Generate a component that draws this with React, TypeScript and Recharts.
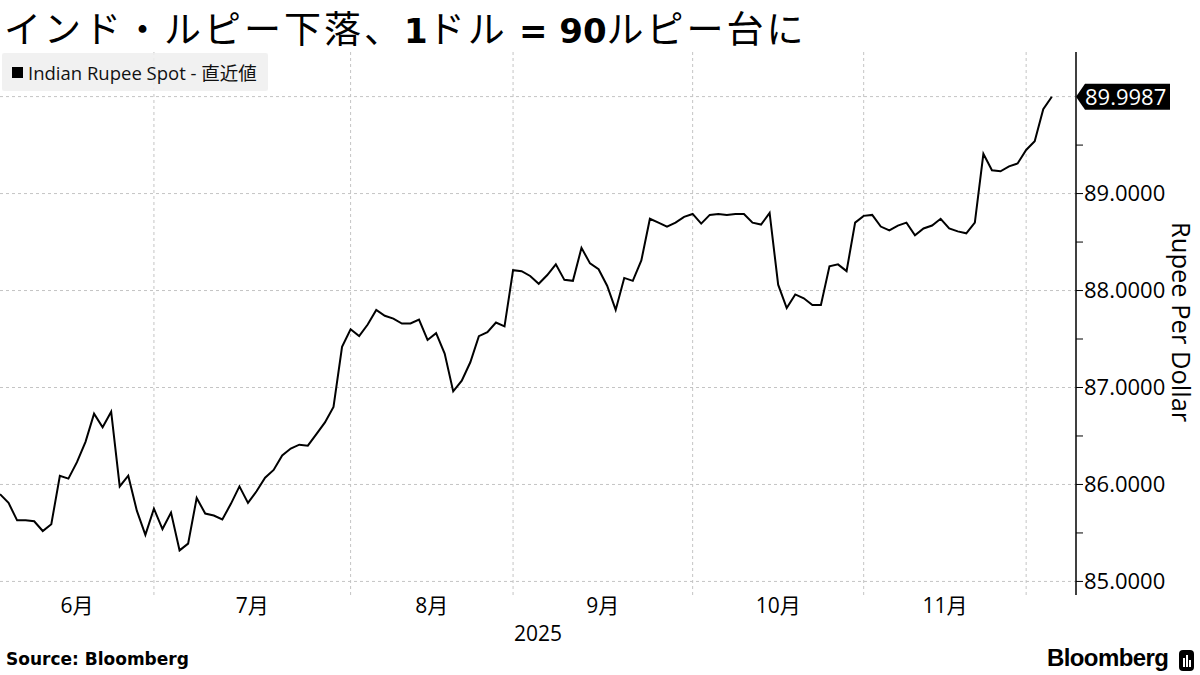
import React from 'react'
import { LineChart, Line, XAxis, YAxis, CartesianGrid } from 'recharts'

// USD/INR spot, one value per trading day (Jun 2025 - Dec 4 2025)
const june = [85.90, 85.81, 85.63, 85.63, 85.62, 85.52, 85.59, 86.09, 86.06, 86.23, 86.44, 86.73, 86.59, 86.75, 85.98, 86.09, 85.73, 85.48]
const july = [85.75, 85.54, 85.71, 85.32, 85.39, 85.86, 85.70, 85.68, 85.64, 85.80, 85.98, 85.81, 85.93, 86.07, 86.15, 86.30, 86.37, 86.41, 86.40, 86.52, 86.64, 86.80, 87.42]
const august = [87.60, 87.53, 87.65, 87.80, 87.74, 87.71, 87.66, 87.66, 87.70, 87.49, 87.56, 87.35, 86.96, 87.07, 87.26, 87.53, 87.57, 87.67, 87.63]
const september = [88.21, 88.20, 88.15, 88.07, 88.16, 88.27, 88.11, 88.10, 88.44, 88.28, 88.22, 88.05, 87.80, 88.13, 88.10, 88.31, 88.74, 88.70, 88.66, 88.70, 88.76]
const october = [88.79, 88.69, 88.78, 88.79, 88.78, 88.79, 88.79, 88.70, 88.68, 88.80, 88.06, 87.82, 87.96, 87.92, 87.85, 87.85, 88.25, 88.27, 88.20, 88.70]
const november = [88.77, 88.78, 88.66, 88.62, 88.67, 88.70, 88.57, 88.64, 88.67, 88.74, 88.64, 88.61, 88.59, 88.70, 89.41, 89.24, 89.23, 89.28, 89.31]
const december = [89.45, 89.54, 89.87, 89.9987]

const months = [june, july, august, september, october, november, december]
const monthLabels = ['6月', '7月', '8月', '9月', '10月', '11月']
const yTicks = [85, 85.5, 86, 86.5, 87, 87.5, 88, 88.5, 89, 89.5]
const yGrid = [85, 86, 87, 88, 89, 90]

const values = months.flat()
const data = values.map((v, i) => ({ i, v }))
const lastValue = values[values.length - 1]

// index of the first trading day of each month (after the first)
const monthStarts: number[] = []
let acc = 0
months.forEach((m, k) => {
  if (k > 0) monthStarts.push(acc)
  acc += m.length
})
const labelPos = monthLabels.map((_, k) => ((k === 0 ? 0 : monthStarts[k - 1]) + monthStarts[k]) / 2)

const latin = '"Open Sans", "Noto Sans CJK JP", sans-serif'
const boldNum = { fontFamily: '"DejaVu Sans"', fontWeight: 700, fontSize: 34, letterSpacing: 0 }

const YTick = (props: any) => {
  const { x, y, payload } = props
  const v = payload.value
  if (v === lastValue) {
    return (
      <g>
        <polygon points={`${x},${y} ${x + 9},${y - 13} ${x + 94},${y - 13} ${x + 94},${y + 13} ${x + 9},${y + 13}`} fill="#000" />
        <text x={x + 9} y={y} dy="0.36em" fill="#fff" fontSize={22} fontFamily={latin}>{v.toFixed(4)}</text>
      </g>
    )
  }
  if (Number.isInteger(v)) {
    return (
      <g>
        <line x1={x} x2={x + 7} y1={y} y2={y} stroke="#000" strokeWidth={1} />
        <text x={x + 8} y={y} dy="0.36em" fill="#000" fontSize={22} fontFamily={latin}>{v.toFixed(4)}</text>
      </g>
    )
  }
  return <line x1={x} x2={x + 7} y1={y} y2={y} stroke="#000" strokeWidth={1} />
}

const App = () => {
  return (
    <div style={{ position: 'absolute', left: 0, top: 0, width: 1200, height: 675, background: '#fff', overflow: 'hidden' }}>
      <LineChart width={1200} height={675} data={data} margin={{ top: 52, right: 0, bottom: 50, left: 0 }}>
        <CartesianGrid strokeDasharray="3 3" stroke="#c4c4c4" horizontalValues={yGrid} verticalValues={monthStarts} />
        <XAxis
          dataKey="i"
          type="number"
          domain={[0, 125.83]}
          allowDataOverflow
          ticks={labelPos}
          tickFormatter={(v: number) => monthLabels[labelPos.indexOf(v)] ?? ''}
          axisLine={false}
          tickLine={false}
          tickSize={0}
          tickMargin={3}
          height={30}
          tick={{ fill: '#000', fontSize: 21, fontFamily: latin }}
        />
        <YAxis
          orientation="right"
          domain={[84.86, 90.46]}
          allowDataOverflow
          ticks={[...yTicks, lastValue]}
          interval={0}
          tick={<YTick />}
          tickLine={false}
          tickSize={0}
          tickMargin={0}
          axisLine={{ stroke: '#000', strokeWidth: 1.5 }}
          width={124}
        />
        <Line type="linear" dataKey="v" stroke="#000" strokeWidth={2} dot={false} isAnimationActive={false} />
      </LineChart>

      <div style={{ position: 'absolute', left: 4, top: 0, fontSize: 37, fontFamily: '"Noto Sans CJK JP"', letterSpacing: 3, color: '#000', whiteSpace: 'nowrap' }}>
        インド・ルピー下落、<span style={boldNum}>1</span>ドル <span style={boldNum}>= 90</span>ルピー台に
      </div>

      <div style={{ position: 'absolute', left: 2, top: 53, width: 266, height: 38, background: 'rgba(238,238,238,0.85)', borderRadius: 2, display: 'flex', alignItems: 'center', fontFamily: latin, fontSize: 18.5, color: '#111', whiteSpace: 'nowrap' }}>
        <span style={{ display: 'inline-block', width: 11, height: 11, background: '#000', marginLeft: 10, marginRight: 5 }} />
        Indian Rupee Spot - 直近値
      </div>

      <div style={{ position: 'absolute', left: 1165, top: 222, writingMode: 'vertical-rl', fontFamily: latin, fontSize: 25.5, color: '#000', whiteSpace: 'nowrap' }}>
        Rupee Per Dollar
      </div>

      <div style={{ position: 'absolute', left: 0, width: 1076, top: 619, textAlign: 'center', fontFamily: latin, fontSize: 21, color: '#000' }}>2025</div>

      <div style={{ position: 'absolute', left: 6, top: 649, fontFamily: '"DejaVu Sans"', fontWeight: 700, fontSize: 17, color: '#000' }}>Source: Bloomberg</div>

      <div style={{ position: 'absolute', left: 1047, top: 644, fontFamily: '"Liberation Sans"', fontWeight: 700, fontSize: 24, color: '#000', letterSpacing: -0.6 }}>Bloomberg</div>
      <div style={{ position: 'absolute', left: 1179, top: 650, width: 15, height: 21, background: '#000', borderRadius: 4 }}>
        <div style={{ position: 'absolute', left: 4, top: 8, width: 2, height: 9, background: '#fff' }} />
        <div style={{ position: 'absolute', left: 7, top: 5, width: 2, height: 12, background: '#fff' }} />
        <div style={{ position: 'absolute', left: 10, top: 10, width: 2, height: 7, background: '#fff' }} />
      </div>
    </div>
  )
}

export default App
